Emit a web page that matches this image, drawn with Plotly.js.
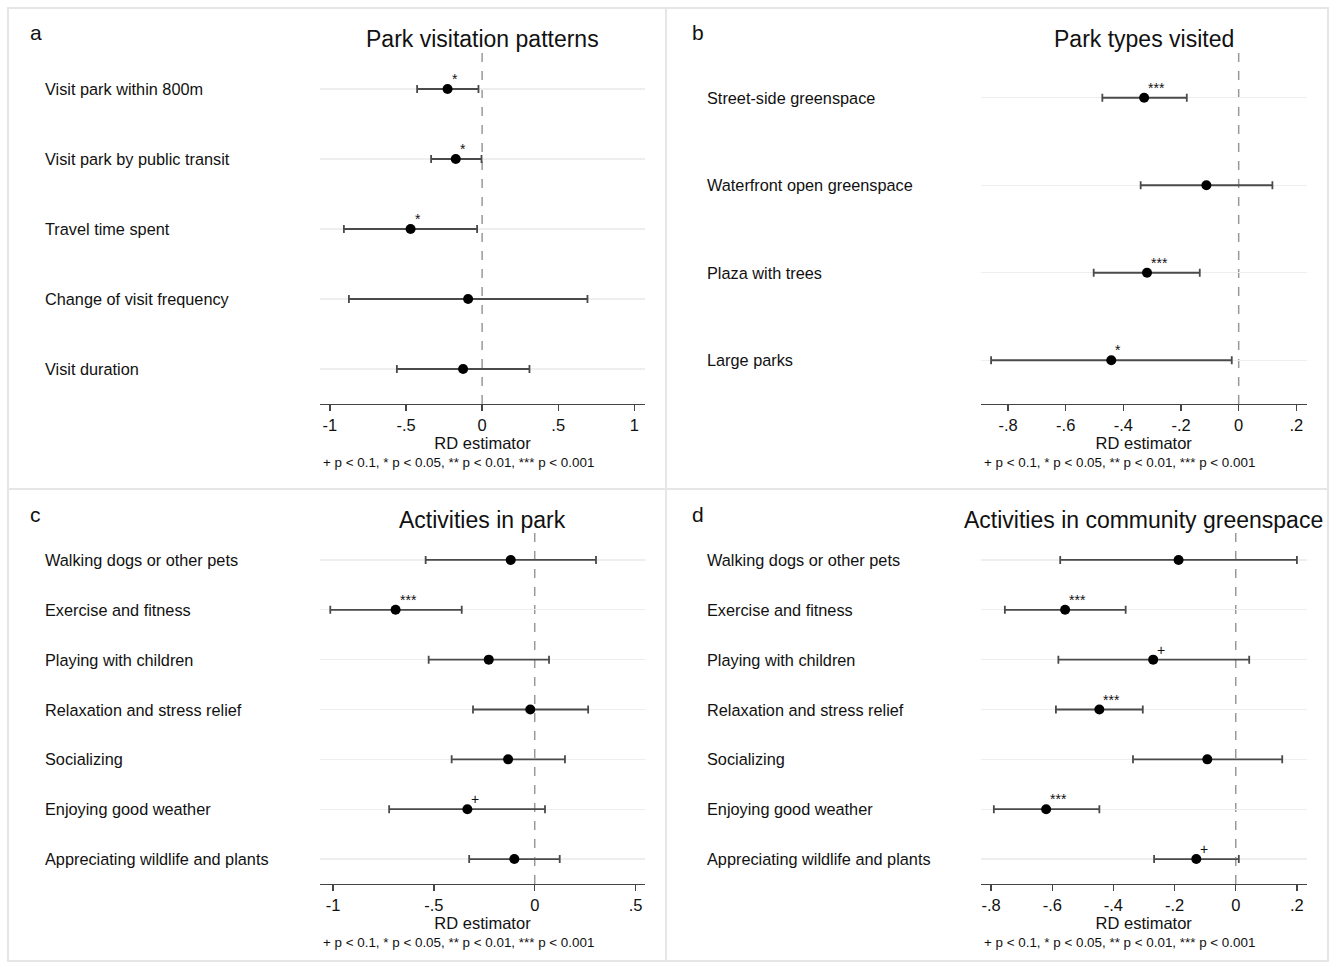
<!DOCTYPE html>
<html>
<head>
<meta charset="utf-8">
<script src="https://cdn.plot.ly/plotly-3.0.1.min.js"></script>
<style>html,body{margin:0;padding:0;background:#fff;}#chart{width:1335px;height:962px;}</style>
</head>
<body>
<div id="chart"></div>
<script>
// ---- Data ----
const catsA = ["Visit park within 800m","Visit park by public transit","Travel time spent","Change of visit frequency","Visit duration"];
const estA = [-0.227,-0.173,-0.470,-0.092,-0.125];
const loA  = [-0.427,-0.335,-0.908,-0.875,-0.560];
const hiA  = [-0.024,-0.004,-0.033,0.692,0.311];
const sigA = ["*","*","*","",""];

const catsB = ["Street-side greenspace","Waterfront open greenspace","Plaza with trees","Large parks"];
const estB = [-0.328,-0.112,-0.318,-0.442];
const loB  = [-0.473,-0.340,-0.503,-0.859];
const hiB  = [-0.180,0.117,-0.135,-0.024];
const sigB = ["***","","***","*"];

const catsC = ["Walking dogs or other pets","Exercise and fitness","Playing with children","Relaxation and stress relief","Socializing","Enjoying good weather","Appreciating wildlife and plants"];
const estC = [-0.119,-0.690,-0.228,-0.022,-0.132,-0.334,-0.101];
const loC  = [-0.541,-1.014,-0.526,-0.306,-0.412,-0.722,-0.325];
const hiC  = [0.304,-0.362,0.071,0.265,0.150,0.051,0.124];
const sigC = ["","***","","","","+",""];

const catsD = ["Walking dogs or other pets","Exercise and fitness","Playing with children","Relaxation and stress relief","Socializing","Enjoying good weather","Appreciating wildlife and plants"];
const estD = [-0.187,-0.558,-0.270,-0.446,-0.093,-0.620,-0.129];
const loD  = [-0.574,-0.755,-0.580,-0.588,-0.336,-0.791,-0.267];
const hiD  = [0.200,-0.360,0.044,-0.304,0.152,-0.446,0.010];
const sigD = ["","***","+","***","","***","+"];

const titles = ["Park visitation patterns","Park types visited","Activities in park","Activities in community greenspace"];
const letters = ["a","b","c","d"];
const tickValsA = [-1,-0.5,0,0.5,1], tickTextA = ["-1","-.5","0",".5","1"];
const tickValsB = [-0.8,-0.6,-0.4,-0.2,0,0.2], tickTextB = ["-.8","-.6","-.4","-.2","0",".2"];
const tickValsC = [-1,-0.5,0,0.5], tickTextC = ["-1","-.5","0",".5"];
const xTitle = "RD estimator";
const footnote = "+ p < 0.1, * p < 0.05, ** p < 0.01, *** p < 0.001";

// ---- Layout helpers ----
const W = 1335, H = 962;
const px = x => x / W;
const py = y => 1 - y / H;
const FONT = "Liberation Sans, Arial, sans-serif";

const panels = [
  {cats:catsA, est:estA, lo:loA, hi:hiA, sig:sigA, tv:tickValsA, tt:tickTextA, range:[-1.065,1.07],
   x0:320, x1:645, y0:54, y1:404, labX:43, box:[8,8,666,489]},
  {cats:catsB, est:estB, lo:loB, hi:hiB, sig:sigB, tv:tickValsB, tt:tickTextB, range:[-0.895,0.236],
   x0:980.7, x1:1306.7, y0:54, y1:404, labX:705, box:[666,8,1328,489]},
  {cats:catsC, est:estC, lo:loC, hi:hiC, sig:sigC, tv:tickValsC, tt:tickTextC, range:[-1.065,0.547],
   x0:320, x1:645, y0:535, y1:884, labX:43, box:[8,489,666,961]},
  {cats:catsD, est:estD, lo:loD, hi:hiD, sig:sigD, tv:tickValsB, tt:tickTextB, range:[-0.834,0.232],
   x0:980.7, x1:1306.7, y0:535, y1:884, labX:705, box:[666,489,1328,961]}
];

const data = [];
const layout = {
  width: W, height: H,
  margin: {l:0, r:0, t:0, b:0},
  paper_bgcolor: "#ffffff",
  plot_bgcolor: "rgba(0,0,0,0)",
  showlegend: false,
  font: {family: FONT, color: "#111"},
  annotations: [],
  shapes: []
};

panels.forEach((p, k) => {
  const sfx = k === 0 ? "" : String(k + 1);
  const xa = "x" + sfx, ya = "y" + sfx;
  const n = p.cats.length;

  data.push({
    type: "scatter", mode: "markers",
    x: p.est, y: p.cats,
    xaxis: xa, yaxis: ya,
    marker: {color: "#000", size: 10},
    error_x: {
      type: "data", symmetric: false,
      array: p.hi.map((h, i) => h - p.est[i]),
      arrayminus: p.lo.map((l, i) => p.est[i] - l),
      color: "#4a4a4a", thickness: 1.8, width: 4
    },
    hoverinfo: "x+y"
  });

  layout["xaxis" + sfx] = {
    domain: [px(p.x0), px(p.x1)],
    anchor: ya,
    range: p.range,
    tickvals: p.tv, ticktext: p.tt,
    ticks: "outside", ticklen: 6, tickwidth: 1.3, tickcolor: "#444",
    showline: true, linecolor: "#444", linewidth: 1.3,
    showgrid: false, zeroline: false,
    tickfont: {size: 16.5, family: FONT, color: "#111"},
    title: {text: xTitle, font: {size: 16.5, family: FONT, color: "#111"}, standoff: 1},
    automargin: false
  };
  layout["yaxis" + sfx] = {
    domain: [py(p.y1), py(p.y0)],
    anchor: xa,
    type: "category",
    categoryorder: "array", categoryarray: p.cats,
    range: [n - 0.5, -0.5],
    showticklabels: false, ticks: "",
    showgrid: true, gridcolor: "#eeeeee", gridwidth: 1.2,
    zeroline: false, showline: false,
    automargin: false
  };

  // dashed zero reference line
  layout.shapes.push({
    type: "line", xref: xa, yref: ya + " domain",
    x0: 0, x1: 0, y0: 0, y1: 1.01,
    line: {color: "#999", width: 1.5, dash: "dash"}, layer: "below"
  });
  // panel border
  layout.shapes.push({
    type: "rect", xref: "paper", yref: "paper",
    x0: px(p.box[0]), x1: px(p.box[2]), y0: py(p.box[3]), y1: py(p.box[1]),
    line: {color: "#e6e6e6", width: 2}, layer: "below"
  });

  // category labels
  p.cats.forEach((c, i) => {
    layout.annotations.push({
      text: c, xref: "paper", x: px(p.labX), xanchor: "left",
      yref: ya, y: i, yanchor: "middle",
      showarrow: false, font: {size: 16.3, family: FONT, color: "#111"}
    });
  });
  // significance marks
  p.sig.forEach((s, i) => {
    if (!s) return;
    layout.annotations.push({
      text: s, xref: xa, x: p.est[i], xanchor: "left", xshift: 2,
      yref: ya, y: i, yanchor: "bottom", yshift: 0,
      showarrow: false, font: {size: 14, family: FONT, color: "#111"}
    });
  });
  // panel title
  layout.annotations.push({
    text: titles[k], xref: "paper", x: px((p.x0 + p.x1) / 2), xanchor: "center",
    yref: "paper", y: py(p.y0 - 15), yanchor: "middle",
    showarrow: false, font: {size: 23, family: FONT, color: "#111"}
  });
  // panel letter
  layout.annotations.push({
    text: letters[k], xref: "paper", x: px(p.labX - 15), xanchor: "left",
    yref: "paper", y: py(p.y0 - 21), yanchor: "middle",
    showarrow: false, font: {size: 21, family: FONT, color: "#111"}
  });
  // footnote
  layout.annotations.push({
    text: footnote, xref: "paper", x: px(p.x0 + 1), xanchor: "left",
    yref: "paper", y: py(p.y1 + 58), yanchor: "middle",
    showarrow: false, font: {size: 13.4, family: FONT, color: "#111"}
  });
});

Plotly.newPlot("chart", data, layout, {staticPlot: true, displayModeBar: false});
</script>
</body>
</html>
